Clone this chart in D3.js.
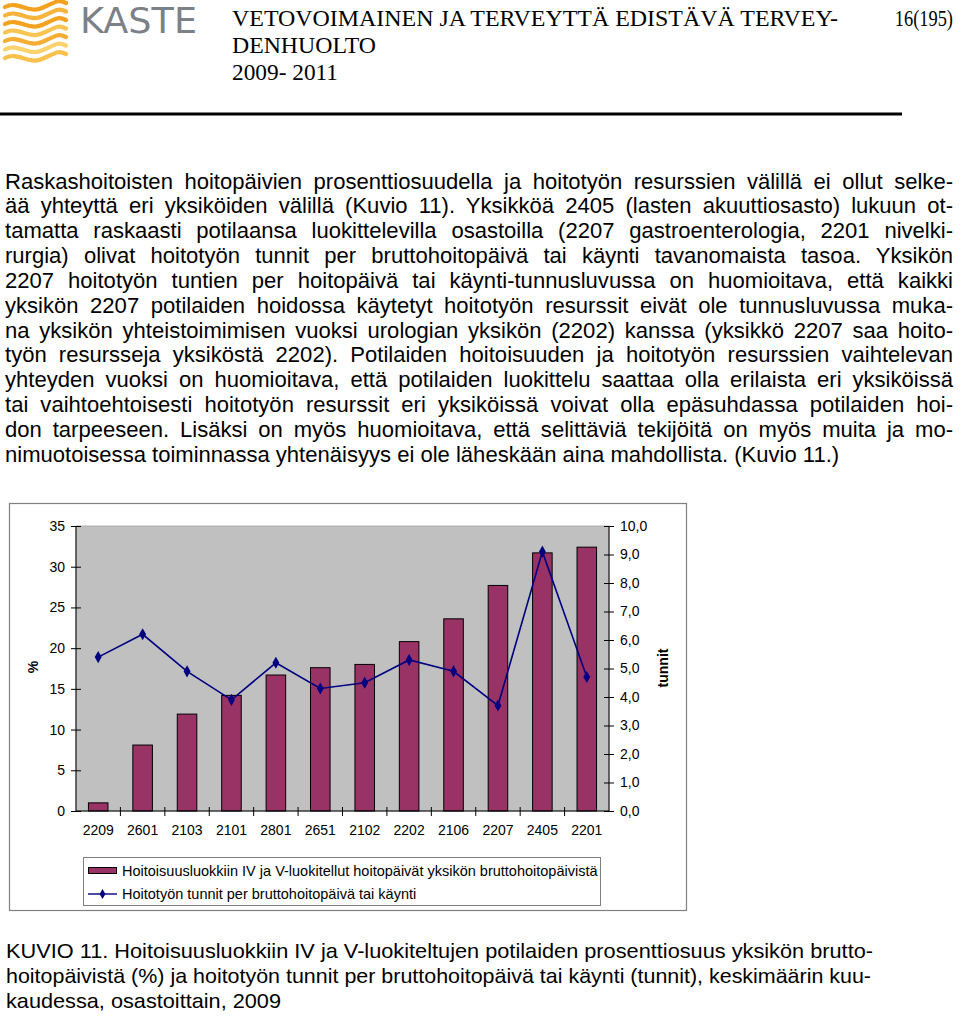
<!DOCTYPE html>
<html><head><meta charset="utf-8">
<script src="https://cdn.jsdelivr.net/npm/d3@7"></script>
<style>
html,body{margin:0;padding:0;background:#fff;}
svg{display:block;}
</style></head>
<body>
<svg id="page" width="960" height="1017"></svg>
<script>
// ---- data ----
const categories = ["2209","2601","2103","2101","2801","2651","2102","2202","2106","2207","2405","2201"];
const percentValues = [1.0, 8.1, 11.9, 14.2, 16.7, 17.6, 18.0, 20.8, 23.6, 27.7, 31.7, 32.4];
const hoursValues = [5.4, 6.2, 4.9, 3.9, 5.2, 4.3, 4.5, 5.3, 4.9, 3.7, 9.1, 4.7];
const leftTicks = [0,5,10,15,20,25,30,35];
const rightTicks = [0,1,2,3,4,5,6,7,8,9,10];
const seriesNames = ["Hoitoisuusluokkiin IV ja V-luokitellut hoitopäivät yksikön bruttohoitopäivistä",
                     "Hoitotyön tunnit per bruttohoitopäivä tai käynti"];
const headerLines = ["VETOVOIMAINEN JA TERVEYTTÄ EDISTÄVÄ TERVEY-","DENHUOLTO","2009- 2011"];
const pageNumber = "16(195)";
const bodyLines = [
"Raskashoitoisten hoitopäivien prosenttiosuudella ja hoitotyön resurssien välillä ei ollut selke-",
"ää yhteyttä eri yksiköiden välillä (Kuvio 11). Yksikköä 2405 (lasten akuuttiosasto) lukuun ot-",
"tamatta raskaasti potilaansa luokittelevilla osastoilla (2207 gastroenterologia, 2201 nivelki-",
"rurgia) olivat hoitotyön tunnit per bruttohoitopäivä tai käynti tavanomaista tasoa. Yksikön",
"2207 hoitotyön tuntien per hoitopäivä tai käynti-tunnusluvussa on huomioitava, että kaikki",
"yksikön 2207 potilaiden hoidossa käytetyt hoitotyön resurssit eivät ole tunnusluvussa muka-",
"na yksikön yhteistoimimisen vuoksi urologian yksikön (2202) kanssa (yksikkö 2207 saa hoito-",
"työn resursseja yksiköstä 2202). Potilaiden hoitoisuuden ja hoitotyön resurssien vaihtelevan",
"yhteyden vuoksi on huomioitava, että potilaiden luokittelu saattaa olla erilaista eri yksiköissä",
"tai vaihtoehtoisesti hoitotyön resurssit eri yksiköissä voivat olla epäsuhdassa potilaiden hoi-",
"don tarpeeseen. Lisäksi on myös huomioitava, että selittäviä tekijöitä on myös muita ja mo-",
"nimuotoisessa toiminnassa yhtenäisyys ei ole läheskään aina mahdollista. (Kuvio 11.)"
];
const captionLines = [
"KUVIO 11. Hoitoisuusluokkiin IV ja V-luokiteltujen potilaiden prosenttiosuus yksikön brutto-",
"hoitopäivistä (%) ja hoitotyön tunnit per bruttohoitopäivä tai käynti (tunnit), keskimäärin kuu-",
"kaudessa, osastoittain, 2009"
];

const svg = d3.select("#page");
const SANS = "'Liberation Sans', Arial, Helvetica, sans-serif";
const SERIF = "'Liberation Serif', 'Times New Roman', serif";

// ---- header / logo ----
const logo = svg.append("g");
const stripeColors = ["#f3a21f","#f6b43c","#f3a21f","#f8c552","#f5ae33","#fad26e","#f7c14c"];
stripeColors.forEach((c,i)=>{
  const y0 = 5 + i*8.5;
  logo.append("path")
    .attr("d", `M5,${y0+2} C18,${y0-5} 28,${y0+9} 42,${y0+3} S58,${y0-6} 66,${y0-2}`)
    .attr("fill","none").attr("stroke",c).attr("stroke-width",4.2).attr("stroke-linecap","round");
});
logo.append("text").attr("x",80).attr("y",33).attr("font-family","'DejaVu Sans', "+SANS)
  .attr("font-size",35).attr("fill","#7c8187").attr("textLength",117).attr("lengthAdjust","spacingAndGlyphs")
  .text("KASTE");

const hdrY = [26,53,80];
const hdrW = [606,144,106];
headerLines.forEach((t,i)=>{
  svg.append("text").attr("x",232).attr("y",hdrY[i]).attr("font-family",SERIF).attr("font-size",23)
    .attr("textLength",hdrW[i]).attr("lengthAdjust","spacingAndGlyphs").text(t);
});
svg.append("text").attr("transform","translate(953,26) scale(0.8,1)").attr("text-anchor","end")
  .attr("font-family",SERIF).attr("font-size",23).text(pageNumber);
svg.append("line").attr("x1",0).attr("x2",902).attr("y1",114).attr("y2",114)
  .attr("stroke","#000").attr("stroke-width",3);

// ---- body paragraph (justified) ----
const bodyX = 5, bodyW = 948;
const probe = svg.append("text").attr("font-family",SANS).attr("font-size",20).text(bodyLines[bodyLines.length-1]);
const bodyFont = 20 * 835 / probe.node().getComputedTextLength();
probe.remove();
bodyLines.forEach((t,i)=>{
  const tx = svg.append("text").attr("x",bodyX).attr("y",188.5 + i*24.85)
    .attr("font-family",SANS).attr("font-size",bodyFont).attr("fill","#000").text(t);
  if(i < bodyLines.length-1){
    const len = tx.node().getComputedTextLength();
    const spaces = (t.match(/ /g)||[]).length;
    if(spaces>0) tx.style("word-spacing", ((bodyW-len)/spaces)+"px");
  }
});

// ---- chart ----
svg.append("rect").attr("x",9.5).attr("y",503.5).attr("width",677).attr("height",407)
  .attr("fill","#fff").attr("stroke","#808080").attr("stroke-width",1.2);

const plot = {l:76, r:609, t:526, b:811};
const x = d3.scaleBand().domain(categories).range([plot.l, plot.r]).paddingInner(0.56).paddingOuter(0.28);
const xb = d3.scaleBand().domain(categories).range([plot.l, plot.r]);
const yL = d3.scaleLinear().domain([0,35]).range([plot.b, plot.t]);
const yR = d3.scaleLinear().domain([0,10]).range([plot.b, plot.t]);

svg.append("rect").attr("x",plot.l).attr("y",plot.t).attr("width",plot.r-plot.l).attr("height",plot.b-plot.t)
  .attr("fill","#c0c0c0").attr("stroke","#a0a0a0").attr("stroke-width",0.8);

svg.append("g").selectAll("rect").data(categories).join("rect")
  .attr("x",d=>x(d)).attr("width",x.bandwidth())
  .attr("y",(d,i)=>yL(percentValues[i])).attr("height",(d,i)=>plot.b-yL(percentValues[i]))
  .attr("fill","#993366").attr("stroke","#000").attr("stroke-width",1);

const line = d3.line().x((d,i)=>xb(categories[i])+xb.bandwidth()/2).y(d=>yR(d));
svg.append("path").datum(hoursValues).attr("d",line).attr("fill","none")
  .attr("stroke","#000080").attr("stroke-width",1.6);
const diamond = d3.symbol().type(d3.symbolDiamond).size(42);
svg.append("g").selectAll("path").data(hoursValues).join("path")
  .attr("d",diamond)
  .attr("transform",(d,i)=>`translate(${xb(categories[i])+xb.bandwidth()/2},${yR(d)})`)
  .attr("fill","#000080");

// axes
const axL = svg.append("g").attr("transform",`translate(${plot.l},0)`)
  .call(d3.axisLeft(yL).tickValues(leftTicks).tickSize(5).tickPadding(6).tickFormat(d3.format("d")));
axL.selectAll(".tick line").attr("x2",-5).attr("x1",5);
const axR = svg.append("g").attr("transform",`translate(${plot.r},0)`)
  .call(d3.axisRight(yR).tickValues(rightTicks).tickSize(5).tickPadding(6).tickFormat(d=>d3.format(".1f")(d).replace(".",",")));
axR.selectAll(".tick line").attr("x1",-5).attr("x2",5);
const axB = svg.append("g").attr("transform",`translate(0,${plot.b})`)
  .call(d3.axisBottom(xb).tickSize(0).tickPadding(14));
axB.append("g").selectAll("line").data(categories.slice(1)).join("line")
  .attr("x1",d=>xb(d)).attr("x2",d=>xb(d)).attr("y1",-4).attr("y2",5).attr("stroke","#000");
[axL,axR,axB].forEach(a=>{
  a.select(".domain").attr("stroke","#000");
  a.selectAll(".tick line").attr("stroke","#000");
  a.selectAll("text").attr("font-family",SANS).attr("font-size",14).attr("fill","#000");
});
axL.select(".domain").attr("d",`M0,${plot.b}V${plot.t}`);
axR.select(".domain").attr("d",`M0,${plot.b}V${plot.t}`);
axB.select(".domain").attr("d",`M${plot.l},0H${plot.r}`);

svg.append("text").attr("transform","translate(38,667) rotate(-90)").attr("text-anchor","middle")
  .attr("font-family",SANS).attr("font-size",14).attr("font-weight","bold").text("%");
svg.append("text").attr("transform","translate(668,668) rotate(-90)").attr("text-anchor","middle")
  .attr("font-family",SANS).attr("font-size",14).attr("font-weight","bold").text("tunnit");

// legend
const lg = svg.append("g");
lg.append("rect").attr("x",83.5).attr("y",857.5).attr("width",517).attr("height",48)
  .attr("fill","#fff").attr("stroke","#808080").attr("stroke-width",1);
lg.append("rect").attr("x",88.5).attr("y",867.5).attr("width",28).attr("height",6)
  .attr("fill","#993366").attr("stroke","#000");
lg.append("line").attr("x1",88).attr("x2",117).attr("y1",894).attr("y2",894)
  .attr("stroke","#000080").attr("stroke-width",1.4);
lg.append("path").attr("d",d3.symbol().type(d3.symbolDiamond).size(30)).attr("transform","translate(102.5,894)").attr("fill","#000080");
seriesNames.forEach((t,i)=>{
  lg.append("text").attr("x",122).attr("y",876+i*23).attr("font-family",SANS).attr("font-size",14.5).text(t);
});

// ---- caption ----
const capW = [867,865,275];
captionLines.forEach((t,i)=>{
  svg.append("text").attr("x",6).attr("y",958+i*25).attr("font-family",SANS).attr("font-size",21)
    .attr("textLength",capW[i]).attr("lengthAdjust","spacingAndGlyphs").text(t);
});
</script>
</body></html>
